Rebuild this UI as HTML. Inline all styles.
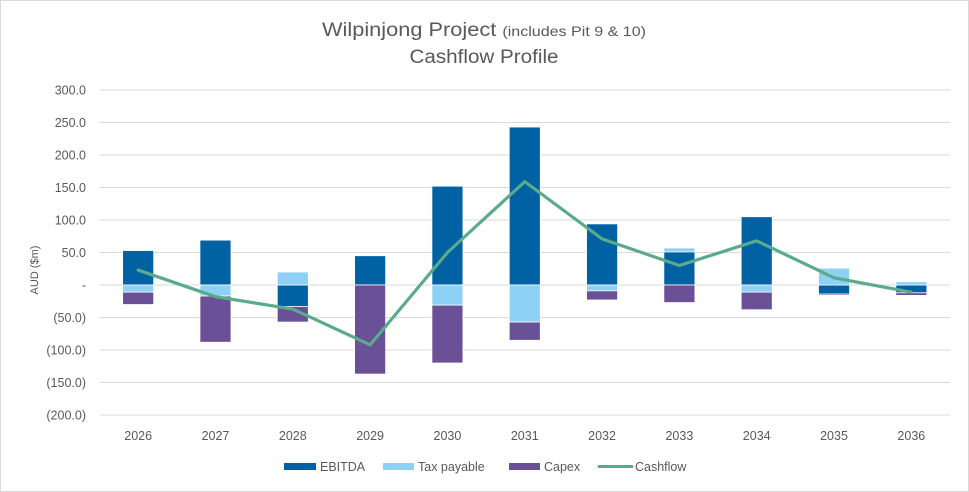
<!DOCTYPE html>
<html><head><meta charset="utf-8"><style>
html,body{margin:0;padding:0;background:#fff;}
svg{display:block;font-family:"Liberation Sans",sans-serif;}
</style></head><body>
<svg id="chart" width="969" height="492" viewBox="0 0 969 492">
<rect x="0.5" y="0.5" width="968" height="491" fill="#fff" stroke="#d9d9d9"/>
<text x="484" y="36" text-anchor="middle" fill="#595959" font-size="19" textLength="324" lengthAdjust="spacingAndGlyphs">Wilpinjong Project <tspan font-size="14">(includes Pit 9 &amp; 10)</tspan></text>
<text x="484" y="63" text-anchor="middle" fill="#595959" font-size="19" textLength="149" lengthAdjust="spacingAndGlyphs">Cashflow Profile</text>
<text transform="translate(38,270) rotate(-90)" text-anchor="middle" fill="#595959" font-size="11">AUD ($m)</text>
<g id="grid"></g><g id="bars"></g><g id="line"></g><g id="labels"></g>
<g>
<rect x="284" y="463" width="32" height="7" fill="#0061a3"/>
<text x="320" y="471" font-size="12.5" fill="#595959">EBITDA</text>
<rect x="383" y="463" width="31" height="7" fill="#8fd1f5"/>
<text x="418" y="471" font-size="12.5" fill="#595959">Tax payable</text>
<rect x="509" y="463" width="31" height="7" fill="#6a5097"/>
<text x="544" y="471" font-size="12.5" fill="#595959">Capex</text>
<line x1="599" y1="466.5" x2="632" y2="466.5" stroke="#5aaa8c" stroke-width="3" stroke-linecap="round"/>
<text x="635" y="471" font-size="12.5" fill="#595959">Cashflow</text>
</g>
</svg>
<script>
const categories = ["2026","2027","2028","2029","2030","2031","2032","2033","2034","2035","2036"];
const ebitda = [53, 69, -33, 45, 152, 243, 94, 51, 105, -14, -12];
const tax = [-11, -17, 20, 0, -31, -57, -9, 6, -11, 26, 5];
const capex = [-19, -71, -24, -137, -89, -28, -14, -27, -27, -2, -4];
const cashflow = [23, -18, -37, -92, 50, 159, 71, 30, 68, 11, -11];
const yTicks = [300, 250, 200, 150, 100, 50, 0, -50, -100, -150, -200];
const yTickLabels = ["300.0","250.0","200.0","150.0","100.0","50.0","-","(50.0)","(100.0)","(150.0)","(200.0)"];

const NS = "http://www.w3.org/2000/svg";
const plotL = 99.5, plotR = 950, yTop = 90, yBot = 415, vMax = 300, vMin = -200;
const band = (plotR - plotL) / categories.length;
const barW = 31;
function y(v){ return yTop + (vMax - v) * (yBot - yTop) / (vMax - vMin); }
function xc(i){ return plotL + band * (i + 0.5); }
function mk(tag, attrs, parent){ const e = document.createElementNS(NS, tag); for (const k in attrs) e.setAttribute(k, attrs[k]); parent.appendChild(e); return e; }

const grid = document.getElementById('grid');
const labels = document.getElementById('labels');
yTicks.forEach((t, i) => {
  const l = mk('line', {x1: plotL, x2: plotR, y1: y(t), y2: y(t), stroke: '#d9d9d9', 'stroke-width': 1}, grid);
  
  
  const tx = mk('text', {x: 86, y: y(t) + 4.5, 'text-anchor': 'end', 'font-size': 12.5, fill: '#595959'}, labels);
  tx.textContent = yTickLabels[i];
  
  
});
categories.forEach((c, i) => {
  const tx = mk('text', {x: xc(i), y: 440, 'text-anchor': 'middle', 'font-size': 12.5, fill: '#595959'}, labels);
  tx.textContent = c;
  
  
});

const bars = document.getElementById('bars');
const series = [[ebitda, '#0061a3', 'ebitda'], [tax, '#8fd1f5', 'tax'], [capex, '#6a5097', 'capex']];
categories.forEach((c, i) => {
  let pos = 0, neg = 0;
  series.forEach(([arr, col, nm]) => {
    const v = arr[i];
    if (v === 0) return;
    let a, b;
    if (v > 0) { a = pos; b = pos + v; pos = b; } else { a = neg; b = neg + v; neg = b; }
    const y1 = Math.min(y(a), y(b)), h = Math.abs(y(a) - y(b));
    const r = mk('rect', {x: xc(i) - barW / 2, y: y1, width: barW, height: h, fill: col, stroke: '#fff', 'stroke-width': 0.75}, bars);
    
    
  });
});

const pts = cashflow.map((v, i) => xc(i) + ',' + y(v)).join(' ');
const pl = mk('polyline', {points: pts, fill: 'none', stroke: '#5aaa8c', 'stroke-width': 3.2, 'stroke-linejoin': 'round', 'stroke-linecap': 'round'}, document.getElementById('line'));


</script>
</body></html>
